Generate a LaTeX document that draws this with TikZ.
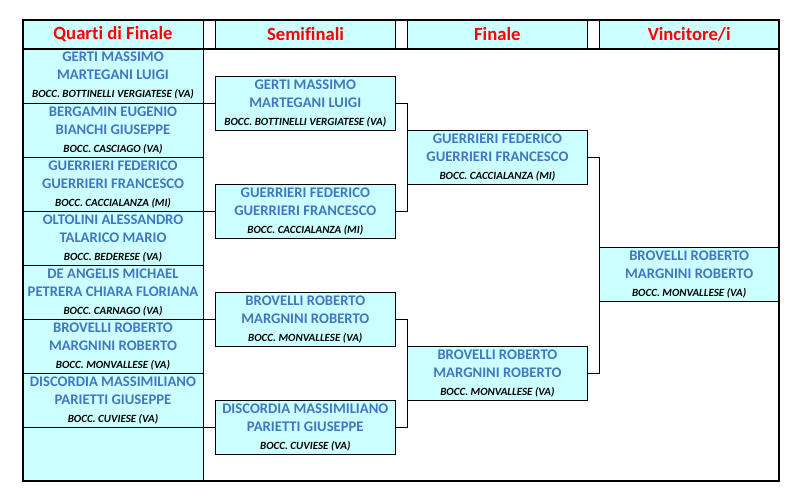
\documentclass[tikz,border=0pt]{standalone}
\usepackage{fontspec}
\setmainfont{Carlito}[Ligatures=NoCommon]
\usepackage{xcolor}
\usetikzlibrary{positioning, calc}
\definecolor{tbcyan}{HTML}{CCFFFF}
\definecolor{tbblue}{HTML}{4177C0}
\definecolor{tbred}{HTML}{FF0000}
\newcommand{\clubfont}{\fontsize{11}{18}\selectfont\bfseries\itshape\color{black}}
\newcommand{\coppia}[3]{#1\\#2\\{\clubfont #3}}

\begin{document}
\begin{tikzpicture}[
  x=1pt, y=-1pt,
  headbox/.style={rectangle, draw=black, fill=tbcyan, minimum width=180pt, minimum height=28.5pt, inner sep=0pt, font=\fontsize{18.67}{22}\selectfont\bfseries, text=tbred},
  cellbox/.style={rectangle, draw=black, fill=tbcyan, minimum width=180pt, minimum height=54pt, inner sep=0pt, align=center, font=\fontsize{14.67}{18}\selectfont\bfseries, text=tbblue},
  teambox/.style={cellbox, line width=0.8pt},
  frameline/.style={draw=black, line width=2pt},
  link/.style={draw=black, line width=0.8pt},
]
\useasboundingbox (0,0) rectangle (803,502);

% Header row
\node[headbox] (hq) at (113, 34.25) {Quarti di Finale};
\node[headbox] (hs) at (305.5, 34.25) {Semifinali};
\node[headbox] (hf) at (497.3, 34.25) {Finale};
\node[headbox, minimum width=179.7pt] (hv) at (689.15, 34.25) {Vincitore/i};

% Quarti di Finale column
\node[cellbox, minimum height=54.8pt] (q1) at (113, 75.9) {\coppia{GERTI MASSIMO}{MARTEGANI LUIGI}{BOCC. BOTTINELLI VERGIATESE (VA)}};
\node[cellbox] (q2) at (113, 130.3) {\coppia{BERGAMIN EUGENIO}{BIANCHI GIUSEPPE}{BOCC. CASCIAGO (VA)}};
\node[cellbox] (q3) at (113, 184.3) {\coppia{GUERRIERI FEDERICO}{GUERRIERI FRANCESCO}{BOCC. CACCIALANZA (MI)}};
\node[cellbox] (q4) at (113, 238.3) {\coppia{OLTOLINI ALESSANDRO}{TALARICO MARIO}{BOCC. BEDERESE (VA)}};
\node[cellbox] (q5) at (113, 292.3) {\coppia{DE ANGELIS MICHAEL}{PETRERA CHIARA FLORIANA}{BOCC. CARNAGO (VA)}};
\node[cellbox] (q6) at (113, 346.3) {\coppia{BROVELLI ROBERTO}{MARGNINI ROBERTO}{BOCC. MONVALLESE (VA)}};
\node[cellbox] (q7) at (113, 400.3) {\coppia{DISCORDIA MASSIMILIANO}{PARIETTI GIUSEPPE}{BOCC. CUVIESE (VA)}};
\node[cellbox] (q8) at (113, 454.15) {};

% Semifinali
\node[teambox] (s1) at (305.3, 103.2) {\coppia{GERTI MASSIMO}{MARTEGANI LUIGI}{BOCC. BOTTINELLI VERGIATESE (VA)}};
\node[teambox] (s2) at (305.3, 211.3) {\coppia{GUERRIERI FEDERICO}{GUERRIERI FRANCESCO}{BOCC. CACCIALANZA (MI)}};
\node[teambox] (s3) at (305.3, 319.3) {\coppia{BROVELLI ROBERTO}{MARGNINI ROBERTO}{BOCC. MONVALLESE (VA)}};
\node[teambox] (s4) at (305.3, 427.4) {\coppia{DISCORDIA MASSIMILIANO}{PARIETTI GIUSEPPE}{BOCC. CUVIESE (VA)}};

% Finale
\node[teambox] (f1) at (497.4, 157.2) {\coppia{GUERRIERI FEDERICO}{GUERRIERI FRANCESCO}{BOCC. CACCIALANZA (MI)}};
\node[teambox] (f2) at (497.4, 373.3) {\coppia{BROVELLI ROBERTO}{MARGNINI ROBERTO}{BOCC. MONVALLESE (VA)}};

% Vincitore
\node[teambox, minimum width=179.7pt] (w) at (689.15, 274.3) {\coppia{BROVELLI ROBERTO}{MARGNINI ROBERTO}{BOCC. MONVALLESE (VA)}};

% bracket lines
\draw[link] (s1.west -| q1.east) -- (s1.west);
\draw[link] (s2.west -| q3.east) -- (s2.west);
\draw[link] (s3.west -| q5.east) -- (s3.west);
\draw[link] (s4.west -| q7.east) -- (s4.west);
\draw[link] (s1.east) -| (f1.west);
\draw[link] (s2.east) -| (f1.west);
\draw[link] (s3.east) -| (f2.west);
\draw[link] (s4.east) -| (f2.west);
\draw[link] (f1.east) -| (w.west);
\draw[link] (f2.east) -| (w.west);

% outer frame
\draw[frameline] (hq.north west) rectangle (hv.east |- q8.south);
\draw[frameline] (hq.south west) -- (hv.south east);
\end{tikzpicture}
\end{document}
